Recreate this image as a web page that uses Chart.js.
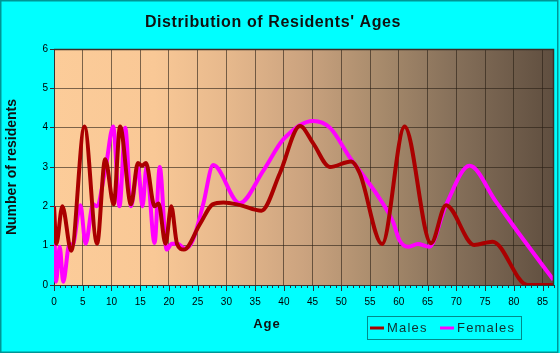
<!DOCTYPE html>
<html>
<head>
<meta charset="utf-8">
<script src="https://cdn.jsdelivr.net/npm/chart.js@4.4.1/dist/chart.umd.min.js"></script>
<style>
    html, body { margin: 0; padding: 0; background: #00ffff; }
    #chart { display: block; }
</style>
</head>
<body>
<canvas id="chart" width="560" height="353"></canvas>
<script>
'use strict';

const chartTitle = "Distribution of Residents' Ages";
const xTitle = 'Age';
const yTitle = 'Number of residents';

// males (age, count)
const maleAges = [0, 0.4, 1.45, 3, 5.3, 7.5, 8.9, 10.4, 11.5, 13.4, 14.6, 15.3, 16, 17.5, 18.2, 19.4, 20.4, 21.4, 22.6,
    25.4, 27.6, 29.5, 32.4, 36.1, 39.3, 42.8, 45.1, 48, 51.7, 53.2, 57.1, 61, 65.6, 68.2, 73.1, 76.3, 82.4, 87];
const maleCounts = [2, 1.05, 2, 0.87, 4.03, 1.05, 3.2, 2.05, 4.03, 2.05, 3.1, 3.03, 3.1, 2, 2.07, 1.05, 2, 1.05, 0.9,
    1.55, 2.05, 2.1, 2.03, 1.89, 2.84, 4.04, 3.6, 3.0, 3.14, 2.84, 1.04, 4.03, 1.06, 2.03, 1.02, 1.1, 0, 0];

// females
const femaleAges = [0, 0.35, 1, 1.6, 2.7, 3.2, 4.6, 5.5, 6.8, 7.4, 9, 10.3, 11.4, 12.4, 13.4, 14.6, 15.4, 16.1, 17.5,
    18.4, 19.6, 20.5, 21.5, 22.8, 24.2, 26, 27.7, 32.3, 36.4, 39.9, 45.1, 48, 51.4, 56.65, 59, 60.1, 61.6, 63.3, 65.3,
    68.2, 72.3, 76.9, 80.9, 86.9];
const femaleCounts = [2, 0.08, 0.97, 0.08, 1.05, 1, 2.03, 1.05, 2.05, 2, 3, 4.03, 2, 4, 2, 3, 2, 3, 1.07,
    3, 0.9, 1.05, 1.05, 0.92, 1.15, 2.08, 3.05, 2.08, 2.9, 3.7, 4.17, 4.0, 3.26, 2.2, 1.6, 1.14, 0.97, 1.04, 0.97,
    2.03, 3.03, 2.12, 1.31, 0.13];

const seriesNames = ['Males', 'Females'];
const seriesColors = ['#aa0000', '#ff00ff'];

function toPoints(xs, ys) {
    return xs.map(function(x, i) { return {x: x, y: ys[i]}; });
}

const decor = {
    id: 'decor',
    beforeDraw(chart) {
        const ctx = chart.ctx;
        const a = chart.chartArea;
        ctx.save();
        ctx.fillStyle = '#00ffff';
        ctx.fillRect(0, 0, chart.width, chart.height);
        ctx.strokeStyle = '#009595';
        ctx.lineWidth = 1.5;
        ctx.strokeRect(0.75, 0.75, chart.width - 3, chart.height - 1.5);

        // plot background
        let g = ctx.createLinearGradient(a.left, 0, a.right, 0);
        g.addColorStop(0, '#fccc99');
        g.addColorStop(0.2, '#f9c896');
        g.addColorStop(0.35, '#e6b88c');
        g.addColorStop(0.5, '#cba37f');
        g.addColorStop(0.65, '#a88b6c');
        g.addColorStop(0.8, '#86705a');
        g.addColorStop(1, '#5f4e3f');
        ctx.fillStyle = g;
        ctx.fillRect(a.left, a.top, a.right - a.left, a.bottom - a.top);
        ctx.restore();
    },
    afterDraw(chart) {
        const ctx = chart.ctx;
        const a = chart.chartArea;
        const xs = chart.scales.x;
        ctx.save();

        // frame top / right
        ctx.strokeStyle = '#3a3028';
        ctx.lineWidth = 1.5;
        ctx.beginPath();
        ctx.moveTo(a.left, a.top + 0.5);
        ctx.lineTo(a.right - 0.5, a.top + 0.5);
        ctx.lineTo(a.right - 0.5, a.bottom);
        ctx.stroke();

        // year ticks under the x axis
        ctx.strokeStyle = '#333';
        ctx.lineWidth = 1;
        ctx.beginPath();
        for (let age = 0; age <= 87; age++) {
            let px = Math.round(xs.getPixelForValue(age)) + 0.5;
            let len = age % 5 === 0 ? 6 : 3;
            ctx.moveTo(px, a.bottom);
            ctx.lineTo(px, a.bottom + len);
        }
        ctx.stroke();

        // title
        ctx.fillStyle = '#111';
        ctx.textAlign = 'center';
        ctx.textBaseline = 'middle';
        ctx.font = 'bold 16px "Liberation Sans", Arial, sans-serif';
        ctx.letterSpacing = '0.6px';
        ctx.fillText(chartTitle, 273, 23);

        // x title
        ctx.font = 'bold 13px "Liberation Sans", Arial, sans-serif';
        ctx.letterSpacing = '1px';
        ctx.fillText(xTitle, 267, 324);

        // legend box
        ctx.strokeStyle = '#008b8b';
        ctx.lineWidth = 1;
        ctx.strokeRect(367.5, 316.5, 154, 23);
        ctx.font = '13px "Liberation Sans", Arial, sans-serif';
        ctx.textAlign = 'left';
        ctx.letterSpacing = '1.2px';
        let lx = [370, 440];
        chart.data.datasets.forEach(function(ds, i) {
            ctx.strokeStyle = ds.borderColor;
            ctx.lineWidth = 3;
            ctx.beginPath();
            ctx.moveTo(lx[i], 328);
            ctx.lineTo(lx[i] + 14, 328);
            ctx.stroke();
            ctx.fillStyle = '#103030';
            ctx.fillText(ds.label, lx[i] + 17, 328);
        });
        ctx.restore();
    }
};

const gridColor = 'rgba(40, 30, 20, 0.6)';

new Chart(document.getElementById('chart'), {
    type: 'line',
    data: {
        datasets: [
            {
                label: seriesNames[0],
                data: toPoints(maleAges, maleCounts),
                borderColor: seriesColors[0],
                borderWidth: 4,
                pointRadius: 0,
                cubicInterpolationMode: 'monotone',
                fill: false,
            },
            {
                label: seriesNames[1],
                data: toPoints(femaleAges, femaleCounts),
                borderColor: seriesColors[1],
                borderWidth: 4,
                pointRadius: 0,
                cubicInterpolationMode: 'monotone',
                fill: false,
            },
        ]
    },
    options: {
        responsive: false,
        animation: false,
        layout: { padding: { top: 49, right: 6, left: 0, bottom: 0 } },
        plugins: {
            legend: { display: false },
            title: { display: false },
            tooltip: { enabled: false },
        },
        scales: {
            x: {
                type: 'linear',
                min: 0,
                max: 87,
                afterFit: function(scale) { scale.height = 68; },
                ticks: {
                    stepSize: 5,
                    includeBounds: false,
                    padding: 11,
                    maxRotation: 0,
                    color: '#000',
                    font: { size: 10, family: '"Liberation Sans", Arial, sans-serif' },
                },
                grid: { color: gridColor, drawTicks: false },
                border: { color: '#333', width: 1 },
            },
            y: {
                min: 0,
                max: 6,
                afterFit: function(scale) { scale.width = 54; },
                ticks: {
                    stepSize: 1,
                    padding: 2,
                    color: '#000',
                    font: { size: 10, family: '"Liberation Sans", Arial, sans-serif' },
                },
                grid: { color: gridColor, tickLength: 4, tickColor: '#333' },
                border: { color: '#333', width: 1 },
                title: {
                    display: true,
                    text: yTitle,
                    color: '#111',
                    padding: { top: 4, bottom: 0 },
                    font: { size: 14, weight: 'bold', family: '"Liberation Sans", Arial, sans-serif' },
                },
            },
        },
    },
    plugins: [decor],
});
</script>
</body>
</html>
